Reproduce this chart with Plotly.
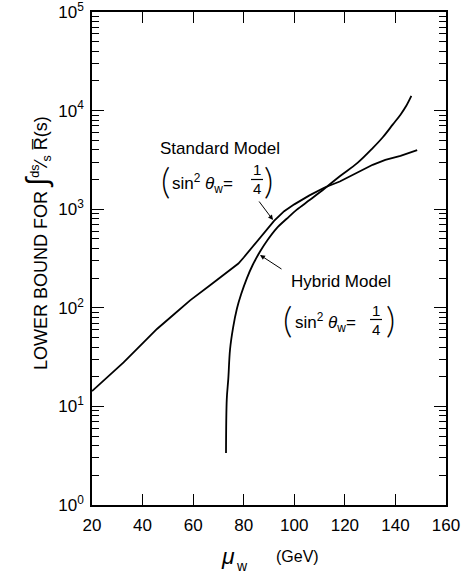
import plotly.graph_objects as go

# ---- data ----
std_x = [20, 25, 32.5, 40, 45.7, 52, 58.8, 66.7, 72, 77.9,
         80, 84, 88, 92, 96, 100, 106, 112, 118, 124, 131, 136, 142, 148.6]
std_y = [14.3, 18.7, 27.9, 43.5, 61, 84, 119, 169, 215, 281,
         324, 427, 575, 760, 955, 1120, 1380, 1660, 1910, 2290, 2820, 3160, 3470, 3980]

hyb_x = [73.0, 73.3, 73.9, 74.6, 75.8, 77.3, 79, 81.2, 83.5, 86.4, 89.5, 93, 97, 100.9,
         106.2, 112, 118, 125, 131.1, 135, 139, 142, 144.3, 146.3]
hyb_y = [3.37, 11.8, 19, 38, 63, 98, 138, 198, 270, 370, 490, 640, 800, 984,
         1245, 1620, 2160, 2950, 4190, 5370, 7250, 9100, 11200, 14100]

x_ticks = [20, 40, 60, 80, 100, 120, 140, 160]
y_tickvals = [1, 10, 100, 1000, 10000, 100000]
y_ticktext = ["10<sup>0</sup>", "10<sup>1</sup>", "10<sup>2</sup>",
              "10<sup>3</sup>", "10<sup>4</sup>", "10<sup>5</sup>"]

FONT = "Liberation Sans, Arial, sans-serif"

W, H = 461, 573
L, R, T, B = 92, 15, 12, 68
PW, PH = W - L - R, H - T - B


def px(x):
    return (x - L) / PW


def py(y):
    return (H - B - y) / PH


fig = go.Figure()
fig.add_trace(go.Scatter(x=std_x, y=std_y, mode="lines",
                         line=dict(color="black", width=1.8), showlegend=False))
fig.add_trace(go.Scatter(x=hyb_x, y=hyb_y, mode="lines", line_shape="spline",
                         line=dict(color="black", width=1.8), showlegend=False))

minor_vals = [m * 10 ** k for k in range(0, 5) for m in range(2, 10)]

fig.update_xaxes(range=[20, 160], tickvals=x_ticks, ticks="inside", ticklen=11,
                 tickwidth=1.3, tickcolor="black", showline=True, linecolor="black",
                 linewidth=1.5, mirror="ticks", showgrid=False, zeroline=False,
                 automargin=False, ticklabelstandoff=4, ticklabeloverflow="allow",
                 tickfont=dict(family=FONT, size=17, color="black"))
fig.update_yaxes(type="log", range=[0, 5.0001], tickvals=y_tickvals,
                 ticktext=y_ticktext,
                 ticks="inside", ticklen=12, tickwidth=1.3, tickcolor="black",
                 showline=True, linecolor="black", linewidth=1.5, mirror="ticks",
                 showgrid=False, zeroline=False, automargin=False,
                 ticklabeloverflow="allow", ticklabelstandoff=3,
                 minor=dict(tickvals=minor_vals, ticks="inside", ticklen=7,
                            tickwidth=1.1, tickcolor="black", showgrid=False),
                 tickfont=dict(family=FONT, size=17, color="black"))

ann = []


def text(x, y, s, size=17, xanchor="center", yanchor="middle", angle=0,
         family=FONT, weight=None):
    f = dict(family=family, size=size, color="black")
    if weight:
        f["weight"] = weight
    ann.append(dict(x=px(x), y=py(y), xref="paper", yref="paper", text=s,
                    showarrow=False, xanchor=xanchor, yanchor=yanchor,
                    textangle=angle, font=f))


PAREN = "Lato, Liberation Sans, sans-serif"

# Standard model label
text(220, 148, "Standard Model")
text(165, 180, "(", size=36, family=PAREN, weight=300)
text(268, 180, ")", size=36, family=PAREN, weight=300)
text(170, 183, "sin<sup>2</sup> <i>θ</i><sub>w</sub>=", xanchor="left")
text(257, 170, "1", size=15)
text(257, 189, "4", size=15)

# Hybrid model label
text(341, 281, "Hybrid Model")
text(287, 319, "(", size=36, family=PAREN, weight=300)
text(390, 319, ")", size=36, family=PAREN, weight=300)
text(293, 322, "sin<sup>2</sup> <i>θ</i><sub>w</sub>=", xanchor="left")
text(376, 310, "1", size=15)
text(376, 329, "4", size=15)

# axis titles
text(37, 243, "LOWER BOUND FOR <span style='font-size:30px'>∫</span>"
     "<sup>ds</sup>⁄<sub>s</sub> R̅(s)", size=18, angle=-90)
text(228, 556, "<i>μ</i>", size=23)
text(242, 566, "w", size=14)
text(297, 556, "(GeV)", size=16)

# arrows
ann.append(dict(x=px(273), y=py(220), xref="paper", yref="paper", text="",
                showarrow=True, ax=-15, ay=-20, arrowhead=2, arrowsize=1,
                arrowwidth=1, arrowcolor="black"))
ann.append(dict(x=px(260), y=py(255), xref="paper", yref="paper", text="",
                showarrow=True, ax=23, ay=15, arrowhead=2, arrowsize=1,
                arrowwidth=1, arrowcolor="black"))

shapes = [
    dict(type="line", xref="paper", yref="paper", x0=px(251), x1=px(263),
         y0=py(179.5), y1=py(179.5), line=dict(color="black", width=1.2)),
    dict(type="line", xref="paper", yref="paper", x0=px(370), x1=px(382),
         y0=py(319.5), y1=py(319.5), line=dict(color="black", width=1.2)),
]

fig.update_layout(width=W, height=H, margin=dict(l=L, r=R, t=T, b=B),
                  paper_bgcolor="white", plot_bgcolor="white",
                  annotations=ann, shapes=shapes,
                  font=dict(family=FONT, color="black"))

fig.write_html("out.html", config={"displayModeBar": False},
               post_script="document.body.style.margin='0';"
                           "document.body.style.overflow='hidden';")
